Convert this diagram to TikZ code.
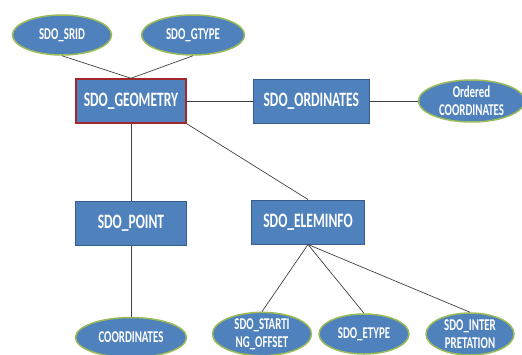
\documentclass[tikz,border=0pt]{standalone}
\usepackage{fontspec}
\setmainfont{Carlito}[FakeStretch=0.66]
\usetikzlibrary{shapes, calc, positioning}
\definecolor{boxblue}{HTML}{4F81BD}
\definecolor{boxedge}{HTML}{385D8A}
\definecolor{geoedge}{HTML}{A0282B}
\definecolor{elledge}{HTML}{9BBB59}
\definecolor{linegray}{HTML}{404040}
\tikzstyle{block} = [rectangle, draw=boxedge, line width=1pt, fill=boxblue, text=white, font=\bfseries\fontsize{20.5}{22}\selectfont, minimum width=112pt, minimum height=44pt, inner sep=2pt]
\tikzstyle{attr} = [ellipse, draw=elledge, line width=1.5pt, fill=boxblue, text=white, font=\bfseries\fontsize{16.5}{17.5}\selectfont, align=center, minimum height=40pt, inner sep=0pt]
\tikzstyle{line} = [draw=linegray, line width=0.7pt]

\begin{document}
\begin{tikzpicture}[x=1pt, y=1pt]
        \useasboundingbox (0,0) rectangle (522,-354);

        \node[block, draw=geoedge, line width=1.5pt, minimum width=110pt] (geo) at (131,-101) {SDO\_GEOMETRY};

        \node[block, right=66pt of geo, minimum width=116pt] (ord) {SDO\_ORDINATES};

        \node[attr, right=48pt of ord, minimum width=106pt, minimum height=42pt] (ordco) {Ordered\\COORDINATES};
        \path[line] (geo) -- (ord);
        \path[line] (ord) -- (ordco);

        \node[attr, minimum width=99pt] (srid) at (62,-35) {SDO\_SRID};
        \node[attr, minimum width=103pt] (gtype) at (193,-35) {SDO\_GTYPE};
        \path[line] (srid.south) -- (geo.north);
        \path[line] (gtype.south) -- (geo.north);

        \node[block, below=77pt of geo, minimum width=111pt] (pt) {SDO\_POINT};
        \path[line] (geo) -- (pt);

        \node[block, minimum width=113pt] (elem) at (308,-222) {SDO\_ELEMINFO};
        \path[line] (geo.south east) -- (elem.north);

        \node[attr, below=71pt of pt, minimum width=111pt] (coord) {COORDINATES};
        \path[line] (pt) -- (coord);

        \node[attr, minimum width=99pt, minimum height=42pt] (start) at (262,-334) {SDO\_STARTI\\NG\_OFFSET};
        \node[attr, minimum width=90pt] (etype) at (364,-334) {SDO\_ETYPE};
        \node[attr, minimum width=88pt, minimum height=42pt] (interp) at (470,-334) {SDO\_INTER\\PRETATION};
        \path[line] (elem.south) -- (start.north);
        \path[line] (elem.south) -- (etype.north);
        \path[line] (elem.south) -- (interp.north);
    \end{tikzpicture}
\end{document}
